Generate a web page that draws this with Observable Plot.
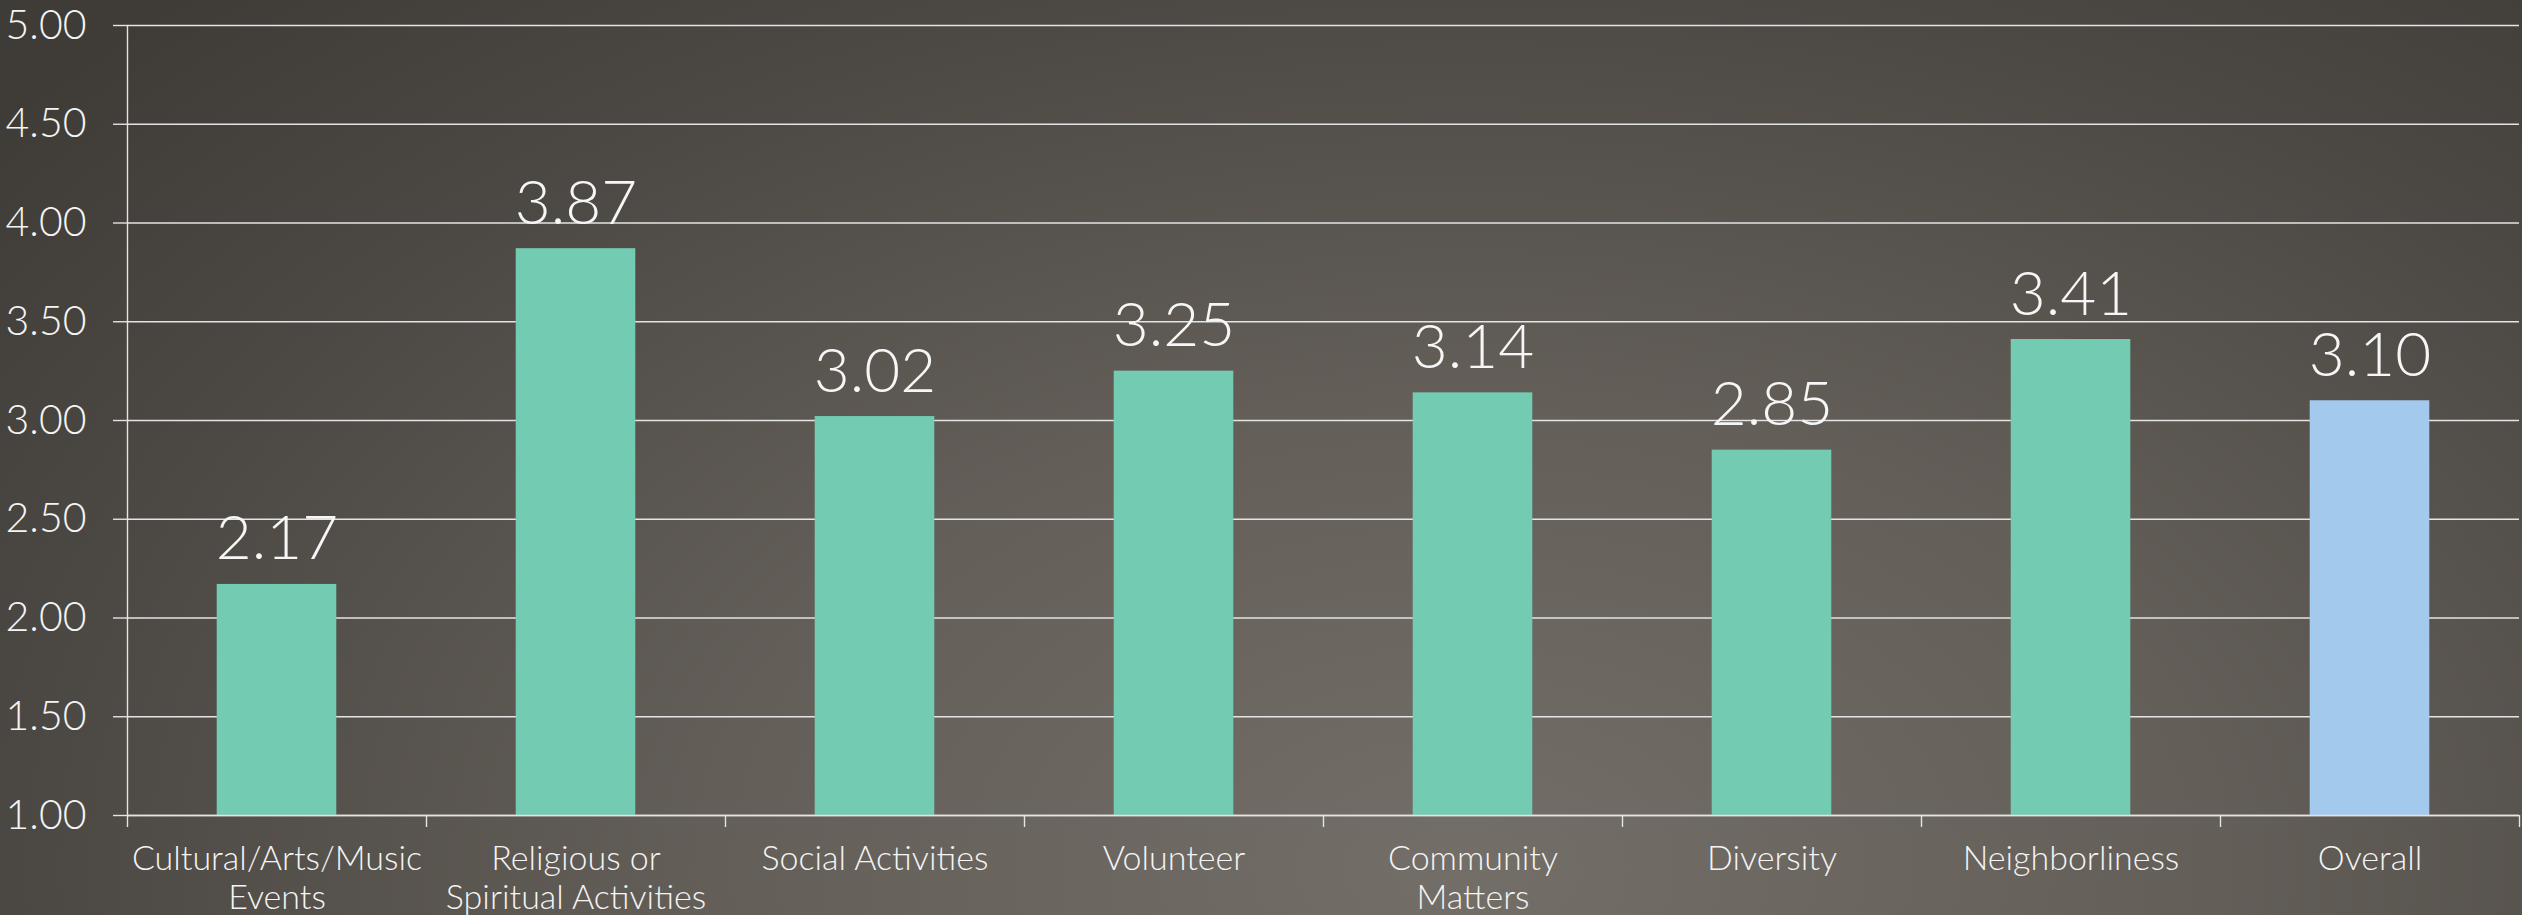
<!DOCTYPE html>
<html>
<head>
<meta charset="utf-8">
<script src="https://cdn.jsdelivr.net/npm/d3@7"></script>
<script src="https://cdn.jsdelivr.net/npm/@observablehq/plot@0.6"></script>
<style>
  html, body { margin: 0; padding: 0; width: 2522px; height: 915px; overflow: hidden; }
  body {
    background:
      radial-gradient(ellipse 75% 130% at 58% 95%, #736e67 0%, #635e58 40%, #4c4843 75%, #3f3b36 100%);
  }
  #chart svg { display: block; }
</style>
</head>
<body>
<div id="chart"></div>
<script>
const categories = [
  "Cultural/Arts/Music\nEvents",
  "Religious or\nSpiritual Activities",
  "Social Activities",
  "Volunteer",
  "Community\nMatters",
  "Diversity",
  "Neighborliness",
  "Overall"
];
const values = [2.17, 3.87, 3.02, 3.25, 3.14, 2.85, 3.41, 3.10];
const groups = ["item", "item", "item", "item", "item", "item", "item", "overall"];
const yTicks = [1.00, 1.50, 2.00, 2.50, 3.00, 3.50, 4.00, 4.50, 5.00];

const data = categories.map((c, i) => ({cat: c, i, value: values[i], group: groups[i]}));
const fmt = d3.format(".2f");
const lineColor = "#e4e4e4";

const chart = Plot.plot({
  width: 2522,
  height: 915,
  marginLeft: 127,
  marginRight: 3,
  marginTop: 25,
  marginBottom: 100,
  style: {background: "transparent", color: "#f4f4f4", fontFamily: "Lato, 'Open Sans', sans-serif", fontWeight: 300},
  x: {domain: [0, categories.length], axis: null},
  y: {domain: [1, 5], axis: null},
  color: {domain: ["item", "overall"], range: ["#73cbb2", "#a3c9ec"]},
  marks: [
    Plot.gridY(yTicks, {stroke: lineColor, strokeOpacity: 1, strokeWidth: 1.4}),
    Plot.rect(data, {x1: d => d.i + 0.3, x2: d => d.i + 0.7, y1: 1, y2: "value", fill: "group"}),
    Plot.axisY(yTicks, {label: null, tickFormat: fmt, tickSize: 14, tickPadding: 27, fontSize: 41, stroke: lineColor, strokeOpacity: 1, strokeWidth: 1.4}),
    Plot.axisX(d3.range(categories.length + 1), {label: null, tickFormat: () => "", tickSize: 12, stroke: lineColor, strokeOpacity: 1, strokeWidth: 1.4}),
    Plot.axisX(data.map(d => d.i + 0.5), {label: null, tickSize: 0, tickPadding: 27, fontSize: 34, lineHeight: 1.15, tickFormat: d => categories[Math.floor(d)]}),
    Plot.ruleX([0], {stroke: lineColor, strokeWidth: 1.4}),
    Plot.ruleY([1], {stroke: lineColor, strokeWidth: 1.6}),
    Plot.text(data, {x: d => d.i + 0.5, y: "value", text: d => fmt(d.value), dy: -25, lineAnchor: "bottom", fontSize: 62, fill: "#f6f6f6"})
  ]
});
document.getElementById("chart").appendChild(chart);
</script>
</body>
</html>
